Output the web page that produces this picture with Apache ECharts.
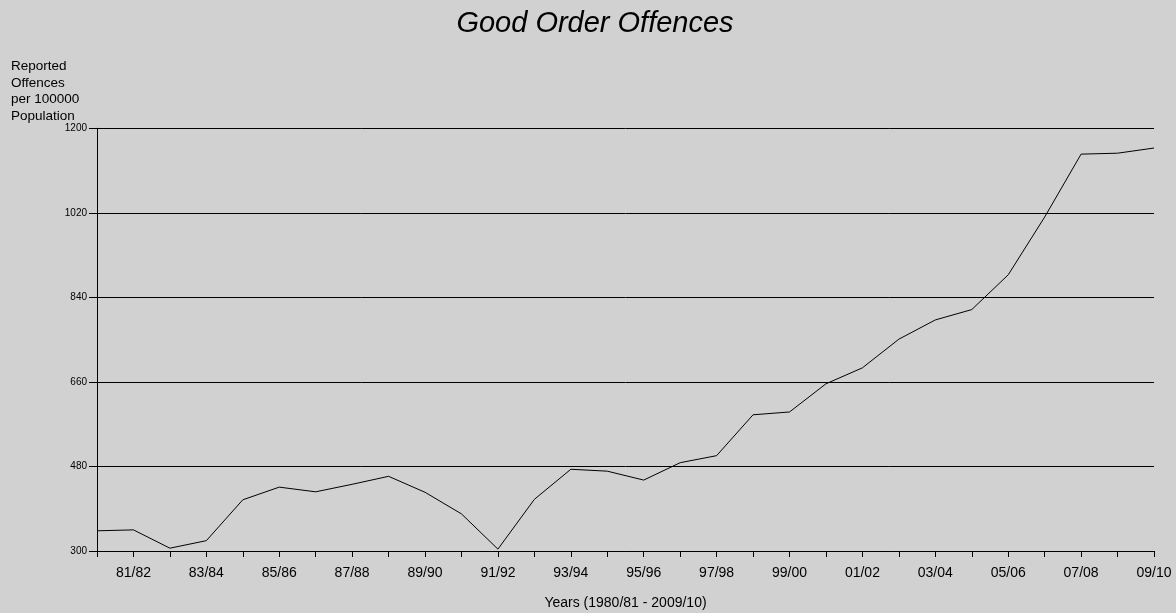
<!DOCTYPE html>
<html>
<head>
<meta charset="utf-8">
<script src="https://cdn.jsdelivr.net/npm/echarts@6/dist/echarts.min.js"></script>
<style>
html,body{margin:0;padding:0;background:#d1d1d1;}
#chart{width:1176px;height:613px;}
</style>
</head>
<body>
<div id="chart"></div>
<script>
const years = ["80/81","81/82","82/83","83/84","84/85","85/86","86/87","87/88","88/89","89/90",
  "90/91","91/92","92/93","93/94","94/95","95/96","96/97","97/98","98/99","99/00",
  "00/01","01/02","02/03","03/04","04/05","05/06","06/07","07/08","08/09","09/10"];
const offences = [343,345,306,322,409,436,426,442,459,425,
  379,304,410,474,470,451,488,503,590,596,
  656,690,751,792,814,888,1011,1145,1147,1158];
const yTicks = { min: 300, max: 1200, interval: 180 };

const chart = echarts.init(document.getElementById('chart'));
const font = 'Liberation Sans, Arial, sans-serif';
chart.setOption({
  backgroundColor: '#d1d1d1',
  animation: false,
  title: [{
    text: 'Good Order Offences',
    left: 590, top: 4, textAlign: 'center',
    textStyle: { fontFamily: font, fontSize: 29, fontStyle: 'italic', fontWeight: 'normal', color: '#000' }
  }, {
    text: 'Reported\nOffences\nper 100000\nPopulation',
    left: 6, top: 53,
    textStyle: { fontFamily: font, fontSize: 13.5, fontWeight: 'normal', color: '#000', lineHeight: 16.7 }
  }],
  grid: { left: 97, right: 22, top: 128.3, bottom: 62, containLabel: false, outerBoundsMode: 'none' },
  xAxis: {
    type: 'category',
    data: years,
    boundaryGap: false,
    name: 'Years (1980/81 - 2009/10)',
    nameLocation: 'middle',
    nameGap: 45,
    nameTextStyle: { fontFamily: font, fontSize: 14, color: '#000' },
    axisLine: { lineStyle: { color: '#000', width: 1 } },
    axisTick: { interval: 0, length: 6, lineStyle: { color: '#000' } },
    axisLabel: {
      interval: function (i) { return i % 2 === 1; },
      fontFamily: font, fontSize: 14, color: '#000', margin: 15
    },
    splitLine: { show: false }
  },
  yAxis: {
    type: 'value',
    min: yTicks.min, max: yTicks.max, interval: yTicks.interval,
    axisLine: { show: true, lineStyle: { color: '#000', width: 1 } },
    axisTick: { show: true, length: 8, lineStyle: { color: '#000' } },
    axisLabel: { fontFamily: font, fontSize: 10, color: '#000', margin: 10,
      formatter: function (v) { return String(v); } },
    splitLine: { show: true, lineStyle: { color: '#000', width: 1 } }
  },
  series: [{
    type: 'line',
    data: offences,
    symbol: 'none',
    lineStyle: { color: '#000', width: 1 }
  }]
});
</script>
</body>
</html>
